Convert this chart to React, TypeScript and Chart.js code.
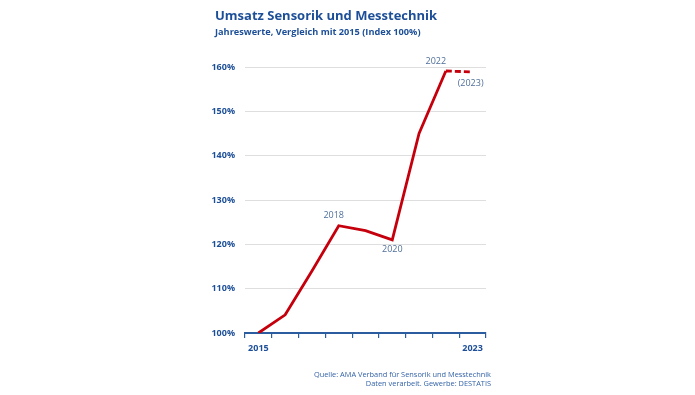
import React, { useEffect, useRef } from "react";
import { Chart, registerables } from "chart.js";

Chart.register(...registerables);

const titleText = "Umsatz Sensorik und Messtechnik";
const subtitleText = "Jahreswerte, Vergleich mit 2015 (Index 100%)";
const sourceLines = ["Quelle: AMA Verband für Sensorik und Messtechnik", "Daten verarbeit. Gewerbe: DESTATIS"];

const years = ["2015", "2016", "2017", "2018", "2019", "2020", "2021", "2022", "2023"];
const indexValues = [100, 104.1, 114.0, 124.2, 123.1, 121.0, 145.0, 159.1, 158.9];
const shownYearLabels = ["2015", "2023"];
const yMin = 100;
const yMax = 160;
const yStep = 10;
// point annotations: year index, text, placement
const annotationIndex = [3, 5, 7, 8];
const annotationText = ["2018", "2020", "2022", "(2023)"];
const annotationAbove = [true, false, true, false];
const forecastFromIndex = 7;

const BLUE = "#1d4f98";
const AXIS_BLUE = "#2b5c9f";
const RED = "#c5000c";
const LABEL = "#4f6f9a";
const FONT = "'Open Sans', 'Noto Sans', sans-serif";

const textPlugin = {
  id: "textPlugin",
  afterDraw(chart: any) {
    const ctx = chart.ctx;
    ctx.save();
    // title
    ctx.fillStyle = BLUE;
    ctx.textBaseline = "middle";
    ctx.textAlign = "left";
    ctx.font = `bold 13px ${FONT}`;
    ctx.fillText(titleText, 207, 8.5);
    ctx.font = `bold 9.2px ${FONT}`;
    ctx.fillText(subtitleText, 207, 24);
    // source
    ctx.textAlign = "right";
    ctx.fillStyle = "#3463a6";
    ctx.font = `7.4px ${FONT}`;
    ctx.fillText(sourceLines[0], 483, 367);
    ctx.fillText(sourceLines[1], 483, 376);
    // annotations
    const meta = chart.getDatasetMeta(0);
    ctx.fillStyle = LABEL;
    ctx.font = `9px ${FONT}`;
    ctx.textAlign = "center";
    annotationIndex.forEach((idx, i) => {
      const pt = meta.data[idx];
      if (!pt) return;
      const above = annotationAbove[i];
      let dx = 0;
      if (idx === 3) dx = -5;
      if (idx === 7) dx = -10;
      if (idx === 8) dx = -2;
      const dy = above ? -10 : (idx === 8 ? 12 : 10);
      ctx.fillText(annotationText[i], pt.x + dx, pt.y + dy);
    });
    ctx.restore();
  },
};

export default function App() {
  const ref = useRef<HTMLCanvasElement | null>(null);
  useEffect(() => {
    if (!ref.current) return;
    const chart = new Chart(ref.current, {
      type: "line",
      data: {
        labels: years,
        datasets: [
          {
            data: indexValues,
            borderColor: RED,
            borderWidth: 2.8,
            pointRadius: 0,
            tension: 0,
            fill: false,
            borderCapStyle: "butt",
            borderJoinStyle: "miter",
            segment: {
              borderDash: (c: any) => (c.p0DataIndex >= forecastFromIndex ? [6, 3] : undefined),
            },
          } as any,
        ],
      },
      options: {
        responsive: false,
        animation: false,
        events: [],
        layout: { padding: { left: 177, right: 201, top: 59, bottom: 24 } },
        plugins: { legend: { display: false }, tooltip: { enabled: false }, title: { display: false } },
        scales: {
          x: {
            type: "category",
            offset: true,
            afterFit: (s: any) => {
              s.height = 30;
            },
            grid: {
              display: true,
              offset: true,
              drawOnChartArea: false,
              drawTicks: true,
              tickLength: 5,
              color: AXIS_BLUE,
              lineWidth: 1.2,
            },
            border: { display: true, color: AXIS_BLUE, width: 2 },
            ticks: {
              autoSkip: false,
              maxRotation: 0,
              padding: 5,
              color: BLUE,
              font: { family: FONT, weight: "bold", size: 9 },
              callback: function (this: any, v: any, i: number) {
                const l = years[i];
                return shownYearLabels.includes(l) ? l : "";
              },
            },
          },
          y: {
            min: yMin,
            max: yMax,
            afterFit: (s: any) => {
              s.width = 60;
            },
            grid: { color: "#dedede", lineWidth: 1, drawTicks: false },
            border: { display: false },
            ticks: {
              stepSize: yStep,
              padding: 10,
              color: BLUE,
              font: { family: FONT, weight: "bold", size: 9 },
              callback: (v: any) => `${v}%`,
            },
          },
        },
      },
      plugins: [textPlugin],
    });
    return () => chart.destroy();
  }, []);
  return <canvas ref={ref} width={679} height={379} style={{ display: "block" }} />;
}
